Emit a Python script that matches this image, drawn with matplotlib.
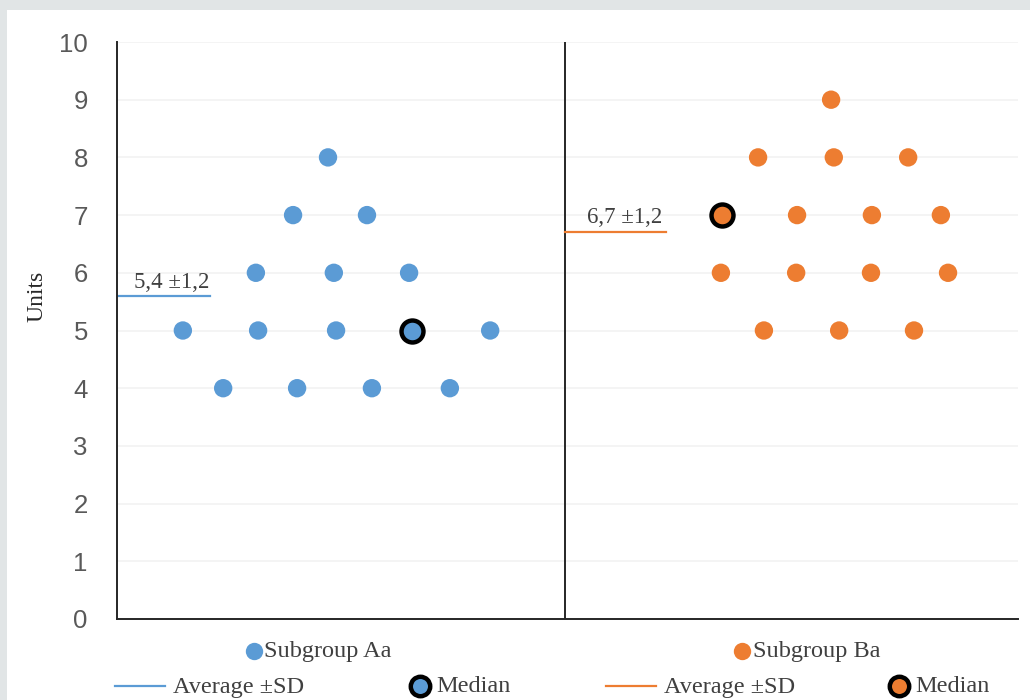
import matplotlib.pyplot as plt
from matplotlib.lines import Line2D
from matplotlib.patches import Rectangle

# Values
a_x = [0.471, 0.393, 0.558, 0.310, 0.484, 0.652, 0.147, 0.315, 0.489, 0.833, 0.237, 0.402, 0.569, 0.743]
a_y = [8, 7, 7, 6, 6, 6, 5, 5, 5, 5, 4, 4, 4, 4]
a_median_x = [0.658]
a_median_y = [5]
a_avg = 5.6
a_label = '5,4 ±1,2'

b_x = [1.594, 1.431, 1.600, 1.766, 1.518, 1.685, 1.839, 1.348, 1.516, 1.683, 1.855, 1.444, 1.612, 1.779]
b_y = [9, 8, 8, 8, 7, 7, 7, 6, 6, 6, 6, 5, 5, 5]
b_median_x = [1.350]
b_median_y = [7]
b_avg = 6.7
b_label = '6,7 ±1,2'

yticks = list(range(0, 11))

blue = '#5B9BD5'
orange = '#ED7D31'
serif = 'Liberation Serif'

fig = plt.figure(figsize=(10.3, 7), dpi=100)
fig.patch.set_facecolor('#e1e5e6')
fig.add_artist(Rectangle((7 / 1030, 0), 1, 1 - 10 / 700, transform=fig.transFigure,
                         facecolor='white', edgecolor='none', zorder=0))

ax = fig.add_axes([117 / 1030, 1 - 619 / 700, 901 / 1030, 577 / 700])
ax.set_facecolor('none')

# gridlines
for t in yticks[1:]:
    ax.axhline(t, color='#f2f2f2', lw=1.2, zorder=0)

ax.axvline(1.0, color='#262626', lw=1.4, zorder=1)

ax.scatter(a_x, a_y, s=175, color=blue, edgecolor='none', zorder=3)
ax.scatter(b_x, b_y, s=175, color=orange, edgecolor='none', zorder=3)
ax.scatter(a_median_x, a_median_y, s=250, color=blue, edgecolor='black', linewidths=3.2, zorder=4)
ax.scatter(b_median_x, b_median_y, s=250, color=orange, edgecolor='black', linewidths=3.2, zorder=4)

ax.plot([0, 0.208], [a_avg, a_avg], color=blue, lw=1.6, zorder=2)
ax.plot([1.0, 1.225], [b_avg, b_avg], color=orange, lw=1.6, zorder=2)
ax.text(0.121, a_avg + 0.05, a_label, ha='center', va='bottom', fontsize=16.5,
        family=serif, color='#404040')
ax.text(1.134, b_avg + 0.08, b_label, ha='center', va='bottom', fontsize=16.5,
        family=serif, color='#404040')

ax.set_xlim(0, 901 / 448)
ax.set_ylim(0, 10)
ax.set_xticks([])
ax.set_yticks(yticks)
ax.tick_params(axis='y', length=0, pad=21, labelsize=18.5, labelcolor='#595959')
for lbl in ax.get_yticklabels():
    lbl.set_family('Liberation Sans')
for s in ['top', 'right']:
    ax.spines[s].set_visible(False)
for s in ['left', 'bottom']:
    ax.spines[s].set_color('#262626')
    ax.spines[s].set_linewidth(1.4)

fig.text(37 / 1030, 1 - 296 / 700, 'Units', rotation=90, ha='center', va='center',
         fontsize=17, family=serif, color='#262626')


# legend drawn by hand to follow the reference layout
def fx(px):
    return px / 1030


def fy(py):
    return 1 - py / 700


def legend_marker(px, py, color, median=False):
    if median:
        fig.add_artist(Line2D([fx(px)], [fy(py)], marker='o', markersize=14, color=color,
                              markeredgecolor='black', markeredgewidth=3.2,
                              transform=fig.transFigure))
    else:
        fig.add_artist(Line2D([fx(px)], [fy(py)], marker='o', markersize=12.5, color=color,
                              markeredgecolor='none', transform=fig.transFigure))


def legend_line(px0, px1, py, color):
    fig.add_artist(Line2D([fx(px0), fx(px1)], [fy(py), fy(py)], color=color, lw=1.6,
                          transform=fig.transFigure))


def legend_text(px, py, s):
    fig.text(fx(px), fy(py), s, ha='left', va='center', fontsize=17.5, family=serif,
             color='#404040')


legend_marker(254, 651, blue)
legend_text(264, 652, 'Subgroup Aa')
legend_marker(742, 651, orange)
legend_text(753, 652, 'Subgroup Ba')

legend_line(115, 165, 686, blue)
legend_text(173, 687, 'Average ±SD')
legend_marker(420, 686, blue, median=True)
legend_text(436, 687, 'Median')
legend_line(606, 656, 686, orange)
legend_text(664, 687, 'Average ±SD')
legend_marker(899, 686, orange, median=True)
legend_text(915, 687, 'Median')

fig.savefig('out.png', dpi=100, facecolor=fig.get_facecolor())
